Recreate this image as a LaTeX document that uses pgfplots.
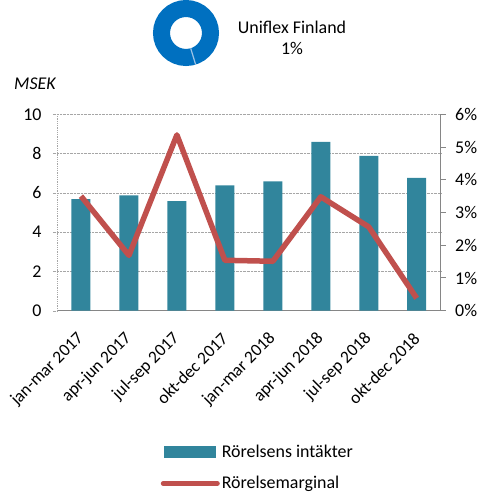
\documentclass[border=0pt]{standalone}
\usepackage{pgfplots}
\pgfplotsset{compat=1.18}
\usetikzlibrary{calc}
\usepackage{fontspec}
\setmainfont{Carlito}
\definecolor{barc}{HTML}{31859C}
\definecolor{linec}{HTML}{C0504D}
\definecolor{donut}{HTML}{0070C0}
\definecolor{donutl}{HTML}{9DC3E6}
\definecolor{gridc}{HTML}{A6A6A6}
\definecolor{axc}{HTML}{868686}
\begin{document}
\begin{tikzpicture}
\useasboundingbox (0,0) rectangle (486bp,492bp);
% donut
\draw[donut, line width=17bp] (186bp,459bp) circle (24.5bp);
\draw[donutl, line width=1.2bp] ($(186bp,459bp)+(-73:16bp)$) -- ($(186bp,459bp)+(-73:33bp)$);
\node[font=\fontsize{18}{21}\selectfont, align=center] at (292bp,454bp) {Uniflex Finland\\1\%};
\node[font=\fontsize{18}{21}\selectfont\itshape, anchor=west, inner sep=0pt] at (14bp,408bp) {MSEK};
\begin{axis}[
  at={(57bp,181.3bp)}, anchor=south west,
  scale only axis, width=383.7bp, height=196.4bp,
  xmin=-0.5, xmax=7.5, ymin=0, ymax=10,
  ytick={0,2,4,6,8,10},
  xtick={0,1,2,3,4,5,6,7},
  xticklabels={jan-mar 2017,apr-jun 2017,jul-sep 2017,okt-dec 2017,jan-mar 2018,apr-jun 2018,jul-sep 2018,okt-dec 2018},
  x tick label style={anchor=east, inner sep=0pt, xshift=0bp, yshift=-21bp, rotate=45, font=\fontsize{17.5}{21}\selectfont},
  y tick label style={font=\fontsize{18}{21}\selectfont},
  /pgf/number format/assume math mode=true,
  axis x line*=bottom, axis y line*=left,
  x axis line style={axc, line width=1bp, -},
  y axis line style={gridc, densely dotted, line width=0.8bp, -},
  xtick style={draw=none},
  ytick style={gridc, densely dotted},
  tick align=outside, major tick length=4bp,
  ymajorgrids, grid style={gridc, densely dotted, line width=0.7bp},
  yticklabel style={xshift=-8bp},
  legend style={at={(0.27,-0.675)}, anchor=north west, draw=none, fill=none,
    font=\fontsize{18}{21}\selectfont, row sep=13bp, inner sep=0pt,
    nodes={inner sep=2bp}},
  legend cell align=left,
]
\addplot[ybar, bar width=19bp, fill=barc, draw=none,
  legend image code/.code={\fill[barc] (0bp,-6bp) rectangle (52bp,6bp);}]
  coordinates {(0,5.68) (1,5.87) (2,5.58) (3,6.38) (4,6.59) (5,8.6) (6,7.88) (7,6.76)};
\addlegendentry{Rörelsens intäkter}
\addlegendimage{legend image code/.code={\draw[linec, line width=5bp, line cap=round] (-1bp,0bp) -- (53bp,0bp);}}
\addlegendentry{Rörelsemarginal}
\end{axis}
\begin{axis}[
  at={(57bp,181.3bp)}, anchor=south west,
  scale only axis, width=383.7bp, height=196.4bp,
  xmin=-0.5, xmax=7.5, ymin=0, ymax=6,
  ytick={0,1,2,3,4,5,6},
  yticklabel={\pgfmathprintnumber{\tick}\%},
  tick label style={font=\fontsize{18}{21}\selectfont},
  /pgf/number format/assume math mode=true,
  axis x line=none, axis y line*=right,
  y axis line style={axc, line width=1bp, -},
  ytick style={axc, line width=1bp},
  tick align=outside, major tick length=5bp,
  yticklabel style={xshift=6bp},
]
\addplot[linec, line width=5.5bp, line join=round]
  coordinates {(0,3.50) (1,1.69) (2,5.37) (3,1.54) (4,1.51) (5,3.48) (6,2.56) (7,0.38)};
\end{axis}
\end{tikzpicture}
\end{document}
